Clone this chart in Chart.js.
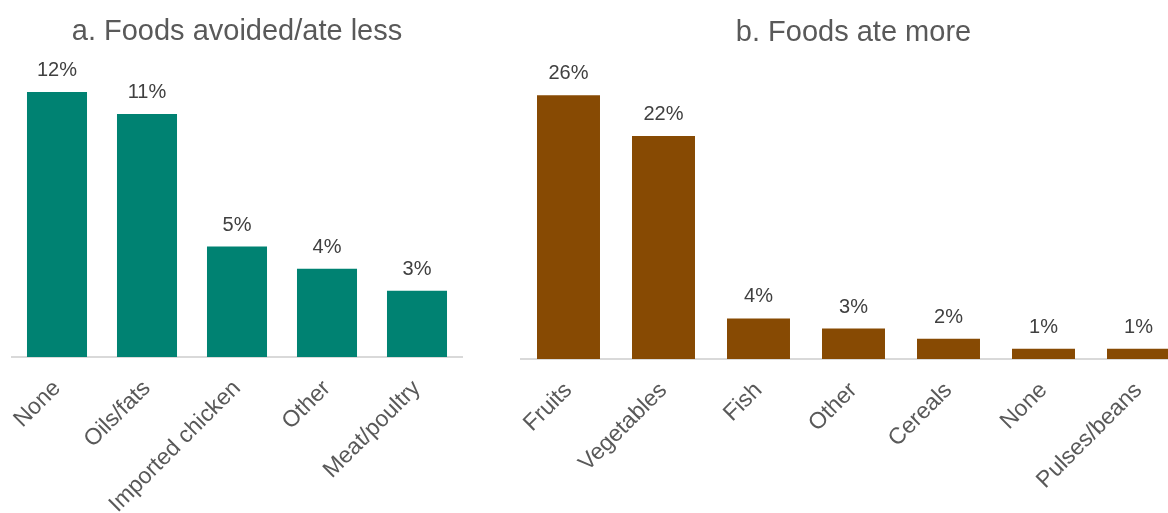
<!DOCTYPE html>
<html>
<head>
<meta charset="utf-8">
<script src="https://cdn.jsdelivr.net/npm/chart.js@4.4.1/dist/chart.umd.min.js"></script>
<style>
  html, body { margin: 0; padding: 0; background: #fff; overflow: hidden; }
  body { width: 1168px; height: 513px; position: relative; }
  .box { position: absolute; top: 0; }
  #left { left: 0; }
  #right { left: 509px; }
</style>
</head>
<body>
<div class="box" id="left"><canvas id="chartLess" width="474" height="513"></canvas></div>
<div class="box" id="right"><canvas id="chartMore" width="689" height="513"></canvas></div>
<script>
const lessLabels = ["None", "Oils/fats", "Imported chicken", "Other", "Meat/poultry"];
const lessValues = [12, 11, 5, 4, 3];

const moreLabels = ["Fruits", "Vegetables", "Fish", "Other", "Cereals", "None", "Pulses/beans"];
const moreValues = [26, 22, 4, 3, 2, 1, 1];

const FONT = "'Liberation Sans', Arial, sans-serif";

// percentage above each bar
const valueLabels = {
    id: "valueLabels",
    afterDatasetsDraw(chart) {
        const ctx = chart.ctx;
        const meta = chart.getDatasetMeta(0);
        const data = chart.data.datasets[0].data;
        ctx.save();
        ctx.font = "20px " + FONT;
        ctx.fillStyle = "#404040";
        ctx.textAlign = "center";
        ctx.textBaseline = "alphabetic";
        meta.data.forEach(function (bar, i) {
            ctx.fillText(data[i] + "%", bar.x, bar.y - 16);
        });
        ctx.restore();
    }
};

function makeChart(id, labels, values, color, title, yMax, titlePad, axisHeight, barPct) {
    const ctx = document.getElementById(id).getContext("2d");
    return new Chart(ctx, {
        type: "bar",
        data: {
            labels: labels,
            datasets: [{
                data: values,
                backgroundColor: color,
                borderWidth: 0,
                barPercentage: barPct,
                categoryPercentage: 1
            }]
        },
        options: {
            responsive: false,
            animation: false,
            layout: { padding: { left: 12, right: 12, top: 0, bottom: 0 } },
            plugins: {
                legend: { display: false },
                tooltip: { enabled: false },
                title: {
                    display: true,
                    text: title,
                    color: "#595959",
                    font: { family: FONT, size: 29, weight: "normal" },
                    padding: titlePad
                }
            },
            scales: {
                x: {
                    grid: { display: false },
                    border: { display: true, color: "#d9d9d9", width: 2 },
                    ticks: {
                        color: "#595959",
                        font: { family: FONT, size: 23 },
                        minRotation: 45,
                        maxRotation: 45,
                        autoSkip: false,
                        padding: 10
                    },
                    afterFit: function (scale) {
                        scale.height = axisHeight;
                    }
                },
                y: {
                    display: false,
                    min: 0,
                    max: yMax
                }
            }
        },
        plugins: [valueLabels]
    });
}

makeChart("chartLess", lessLabels, lessValues, "#008272",
    "a. Foods avoided/ate less", 14, { top: 15, bottom: -2 }, 156, 0.667);
makeChart("chartMore", moreLabels, moreValues, "#874A03",
    "b. Foods ate more", 30, { top: 16, bottom: 4 }, 154, 0.663);
</script>
</body>
</html>
